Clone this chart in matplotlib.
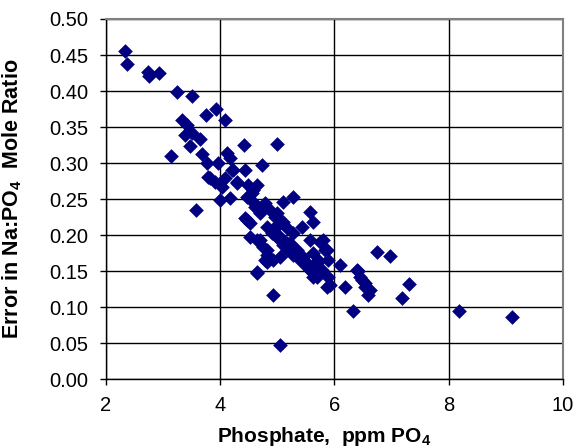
import matplotlib
matplotlib.use("Agg")
from matplotlib import pyplot as plt

plt.rcParams["font.family"] = ["Liberation Sans", "DejaVu Sans"]
plt.rcParams["mathtext.fontset"] = "custom"
plt.rcParams["mathtext.bf"] = "Liberation Sans:bold"
plt.rcParams["mathtext.rm"] = "Liberation Sans"
plt.rcParams["mathtext.default"] = "bf"

# phosphate (ppm PO4) and mole ratio error
phosphate = [
    2.33, 2.37, 2.74, 2.76, 2.92, 3.25, 3.50, 3.75, 3.93, 4.08,
    3.33, 3.42, 3.38, 3.50, 3.65, 3.47, 3.68, 3.13, 4.42, 5.00,
    4.11, 3.96, 4.17, 4.22, 4.43, 4.73, 3.79, 3.91, 4.03, 4.29,
    4.64, 4.56, 4.00, 4.17, 5.10, 5.27, 3.58, 4.47, 4.61, 4.70,
    4.99, 5.10, 5.57, 5.63, 5.43, 4.52, 4.70, 4.82, 4.92, 5.05,
    5.17, 5.27, 5.40, 5.52, 5.63, 5.80, 5.87, 6.75, 6.97, 6.10,
    5.70, 5.87, 6.41, 6.48, 6.54, 6.59, 6.19, 4.64, 4.82, 4.92,
    6.33, 5.05, 7.31, 7.18, 8.18, 9.11,
    3.77, 4.21, 3.82, 4.08, 4.29, 4.49, 4.57, 4.47, 4.57, 4.66,
    4.78, 4.87, 4.43, 4.52, 4.96, 5.05, 5.17, 5.27, 4.82, 4.91,
    4.99, 4.64, 4.75, 4.82, 4.92, 5.05, 5.17, 5.27, 5.40, 5.52,
    5.63, 4.64, 4.78, 5.71, 5.01, 5.10, 5.22, 5.35, 5.45, 5.57,
    5.75, 5.84, 5.89, 5.63, 5.70, 5.78, 5.89, 5.92, 5.57, 5.63,
    6.40, 6.45, 6.54, 6.62, 4.99, 4.96,
]
ratio_error = [
    0.455, 0.437, 0.427, 0.421, 0.425, 0.399, 0.393, 0.367, 0.375, 0.360,
    0.360, 0.353, 0.339, 0.341, 0.334, 0.324, 0.313, 0.310, 0.325, 0.326,
    0.314, 0.300, 0.307, 0.290, 0.290, 0.297, 0.281, 0.274, 0.267, 0.274,
    0.269, 0.258, 0.249, 0.251, 0.246, 0.253, 0.235, 0.221, 0.239, 0.231,
    0.225, 0.218, 0.232, 0.218, 0.211, 0.197, 0.193, 0.179, 0.207, 0.197,
    0.189, 0.179, 0.169, 0.161, 0.151, 0.193, 0.179, 0.176, 0.171, 0.158,
    0.142, 0.128, 0.150, 0.138, 0.128, 0.117, 0.128, 0.147, 0.163, 0.117,
    0.094, 0.047, 0.132, 0.113, 0.094, 0.086,
    0.300, 0.290, 0.279, 0.279, 0.272, 0.269, 0.263, 0.253, 0.246, 0.239,
    0.244, 0.235, 0.224, 0.217, 0.225, 0.217, 0.210, 0.203, 0.211, 0.203,
    0.197, 0.193, 0.183, 0.172, 0.165, 0.169, 0.179, 0.172, 0.165, 0.156,
    0.147, 0.149, 0.165, 0.165, 0.196, 0.186, 0.189, 0.179, 0.169, 0.193,
    0.190, 0.179, 0.165, 0.175, 0.161, 0.151, 0.142, 0.131, 0.151, 0.142,
    0.151, 0.142, 0.133, 0.124, 0.231, 0.211,
]

x_ticks = [2, 4, 6, 8, 10]
y_ticks = [0.00, 0.05, 0.10, 0.15, 0.20, 0.25, 0.30, 0.35, 0.40, 0.45, 0.50]

fig = plt.figure(figsize=(5.77, 4.47), dpi=100)
ax = fig.add_axes([0.1837, 0.152, 0.792, 0.8055])

ax.scatter(phosphate, ratio_error, marker="D", s=56, color="#000080",
           linewidths=0, zorder=3)

ax.set_xlim(2, 10)
ax.set_ylim(0, 0.5)
ax.set_xticks(x_ticks)
ax.set_yticks(y_ticks)
ax.set_yticklabels(["%.2f" % v for v in y_ticks])
ax.grid(True, color="black", linewidth=1.0)
ax.set_axisbelow(True)

for side in ["top", "right"]:
    ax.spines[side].set_color("#808080")
    ax.spines[side].set_linewidth(1.5)
for side in ["left", "bottom"]:
    ax.spines[side].set_color("black")
    ax.spines[side].set_linewidth(1.0)

ax.tick_params(axis="both", direction="out", length=4, width=1,
               labelsize=14.5, colors="black")
ax.tick_params(axis="x", pad=8)
ax.tick_params(axis="y", pad=9)

ax.set_xlabel(r"Phosphate,  ppm PO$_4$", fontsize=15, fontweight="bold")
ax.set_ylabel(r"Error in Na:PO$_4$  Mole Ratio", fontsize=15.5,
              fontweight="bold")
ax.xaxis.set_label_coords(0.478, -0.128)
ax.yaxis.set_label_coords(-0.18, 0.5)

fig.savefig("out.png", dpi=100)
